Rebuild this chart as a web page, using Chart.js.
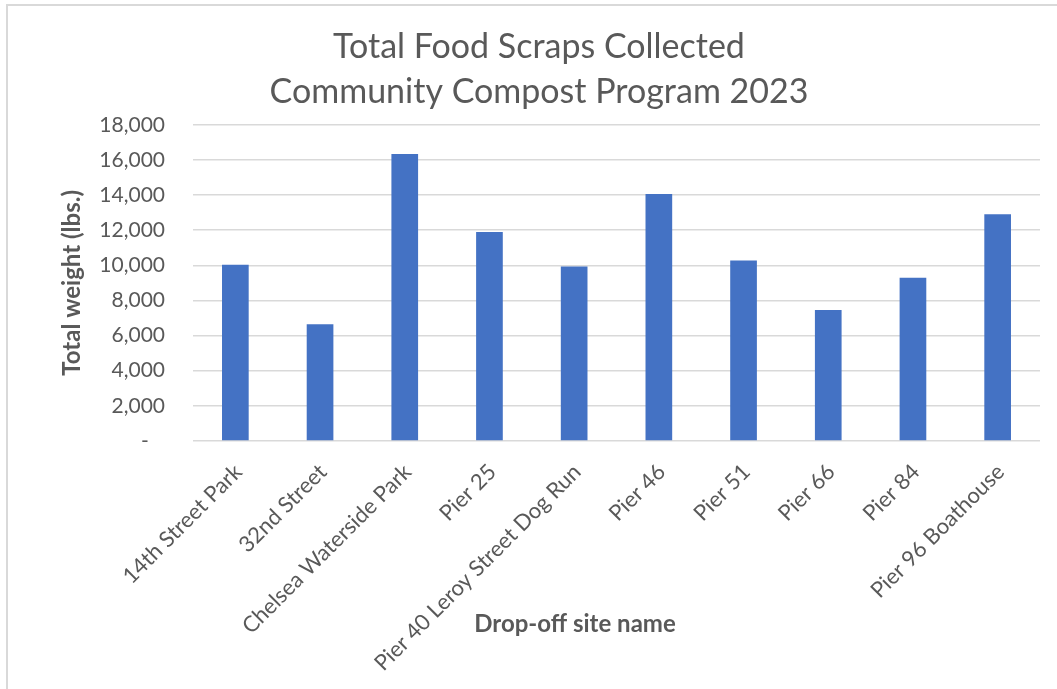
<!DOCTYPE html>
<html>
<head>
<meta charset="utf-8">
<script src="https://cdn.jsdelivr.net/npm/chart.js@4"></script>
<style>
    html, body { margin: 0; padding: 0; background: #fff; }
    #frame { position: absolute; left: 6px; top: 4px; width: 1200px; height: 800px;
             border-top: 2px solid #d9d9d9; border-left: 2px solid #d9d9d9; }
    #food-chart { position: absolute; left: 0; top: 0; }
</style>
</head>
<body>
<div id="frame"></div>
<canvas id="food-chart" width="1057" height="689"></canvas>
<script>
// data
const sites = ['14th Street Park', '32nd Street', 'Chelsea Waterside Park', 'Pier 25',
    'Pier 40 Leroy Street Dog Run', 'Pier 46', 'Pier 51', 'Pier 66', 'Pier 84', 'Pier 96 Boathouse'];
const weights = [10030, 6650, 16330, 11890, 9930, 14060, 10280, 7460, 9290, 12900];
const titleLines = ['Total Food Scraps Collected', 'Community Compost Program 2023'];
const yTitle = 'Total weight (lbs.)';
const xTitle = 'Drop-off site name';

const grey = '#595959';
const fontName = 'Lato';

// x axis title sits beside the long rotated labels, like Excel does it
const xTitlePlugin = {
    id: 'xTitle',
    afterDraw(chart) {
        let c = chart.ctx;
        c.save();
        c.font = 'bold 24px ' + fontName;
        c.fillStyle = grey;
        c.textAlign = 'center';
        c.textBaseline = 'middle';
        c.fillText(xTitle, 575, 624);
        c.restore();
    }
};

let ctx = document.getElementById('food-chart').getContext('2d');

new Chart(ctx, {
    type: 'bar',
    data: {
        labels: sites,
        datasets: [{
            label: 'Total weight',
            data: weights,
            backgroundColor: '#4472c4',
            barPercentage: 0.315,
            categoryPercentage: 1
        }]
    },
    options: {
        responsive: false,
        animation: false,
        layout: { padding: { left: 38, right: 17, top: 0, bottom: 0 } },
        plugins: {
            legend: { display: false },
            tooltip: { enabled: false },
            title: {
                display: true,
                text: titleLines,
                color: grey,
                font: { family: fontName, size: 34, weight: 'normal', lineHeight: 1.32 },
                padding: { top: 25, bottom: 10 }
            }
        },
        scales: {
            x: {
                grid: { display: false, drawTicks: false },
                border: { display: false },
                ticks: {
                    color: grey,
                    font: { family: fontName, size: 22 },
                    minRotation: 45,
                    maxRotation: 45,
                    autoSkip: false,
                    padding: 18,
                    labelOffset: 3
                },
                afterFit: function (scale) { scale.height = 248; }
            },
            y: {
                min: 0,
                max: 18000,
                grid: { color: '#d9d9d9', lineWidth: 1.5, drawTicks: false },
                border: { display: false },
                ticks: {
                    stepSize: 2000,
                    color: grey,
                    font: { family: fontName, size: 21 },
                    padding: 28,
                    callback: function (v) {
                        return v === 0 ? '-   ' : v.toLocaleString('en-US');
                    }
                },
                title: {
                    display: true,
                    text: yTitle,
                    color: grey,
                    font: { family: fontName, size: 24, weight: 'bold' },
                    padding: { top: 20, bottom: 0 }
                },
                afterFit: function (scale) { scale.width = 155; }
            }
        }
    },
    plugins: [xTitlePlugin]
});
</script>
</body>
</html>
